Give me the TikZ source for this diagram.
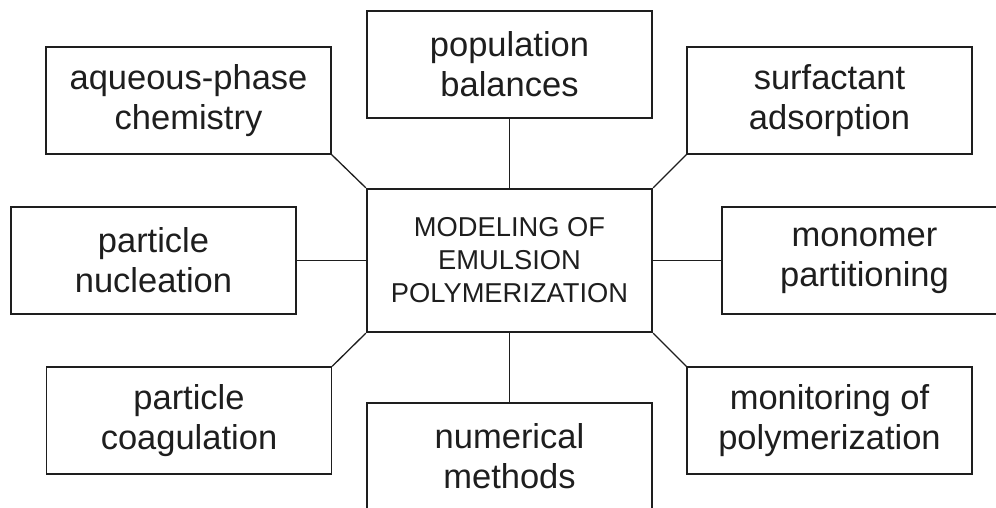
\documentclass[tikz,border=0pt]{standalone}
\usepackage{fontspec}
\setmainfont{Liberation Sans}
\definecolor{ink}{HTML}{1E1E1E}
\begin{document}
\begin{tikzpicture}[x=1pt,y=-1pt,
  box/.style={draw=ink, line width=1.3pt, minimum width=285pt, minimum height=107pt,
    inner sep=0pt, align=center, text=ink, font=\fontsize{34.5}{40}\selectfont},
  central/.style={draw=ink, line width=2.3pt, minimum width=285pt, minimum height=143pt,
    inner sep=0pt, align=center, text=ink, font=\fontsize{27.3}{33}\selectfont},
  link/.style={draw=ink, line width=1.3pt}]
\useasboundingbox (0,0) rectangle (996,508);
\node[central] (c) at (509.5,260.5) {MODELING OF\\EMULSION\\POLYMERIZATION};
\node[box] (aq) at (188.5,100.5) {aqueous-phase\\chemistry};
\node[box] (pop) at (509.5,64.5) {population\\balances};
\node[box] (surf) at (829.5,100.5) {surfactant\\adsorption};
\node[box] (nuc) at (153.5,260.5) {particle\\nucleation};
\node[box] (mono) at (864.5,260.5) {monomer\\partitioning};
\node[box] (coag) at (189,420.5) {particle\\coagulation};
\node[box] (num) at (509.5,456.5) {numerical\\methods};
\node[box] (mon) at (829.5,420.5) {monitoring of\\polymerization};
\draw[link] (aq.south east) -- (c.north west);
\draw[link] (pop.south) -- (c.north);
\draw[link] (surf.south west) -- (c.north east);
\draw[link] (nuc.east) -- (c.west);
\draw[link] (mono.west) -- (c.east);
\draw[link] (coag.north east) -- (c.south west);
\draw[link] (num.north) -- (c.south);
\draw[link] (mon.north west) -- (c.south east);
\end{tikzpicture}
\end{document}
